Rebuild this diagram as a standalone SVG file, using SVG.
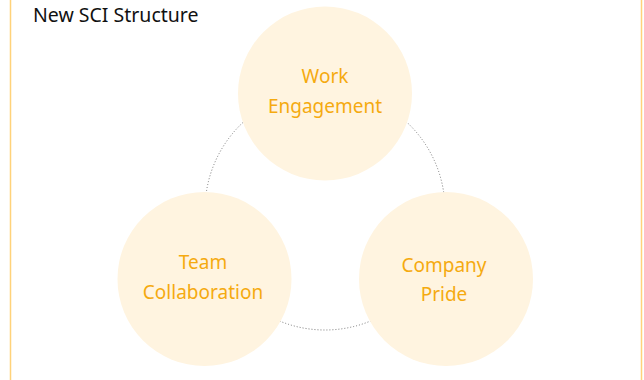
<svg xmlns="http://www.w3.org/2000/svg" width="644" height="380" viewBox="0 0 644 380">
<style>
.frame{fill:none;stroke:#FFD27A;stroke-width:1.5}
.ring{fill:none;stroke:#777;stroke-width:1;stroke-dasharray:1 2}
.node{fill:#FFF4E0}
.lbl{font-family:"Noto Sans","DejaVu Sans",sans-serif;font-size:19px;fill:#F5AA10;text-anchor:middle}
.title{font-family:"Noto Sans","DejaVu Sans",sans-serif;font-size:19.5px;fill:#111}
</style>
<rect class="frame" x="10.5" y="-5" width="631" height="390"/>
<text class="title" x="33" y="22">New SCI Structure</text>
<g id="connectors">
<circle class="ring" cx="325" cy="210" r="120"/>
</g>
<g id="work">
<circle class="node" cx="325" cy="93.5" r="87"/>
<text class="lbl" x="325" y="83">Work</text>
<text class="lbl" x="325" y="113">Engagement</text>
</g>
<g id="team">
<circle class="node" cx="204.5" cy="279" r="87"/>
<text class="lbl" x="203" y="268.5">Team</text>
<text class="lbl" x="203" y="298.5">Collaboration</text>
</g>
<g id="pride">
<circle class="node" cx="446" cy="279" r="87"/>
<text class="lbl" x="444" y="271.5">Company</text>
<text class="lbl" x="444" y="300.5">Pride</text>
</g>
</svg>
